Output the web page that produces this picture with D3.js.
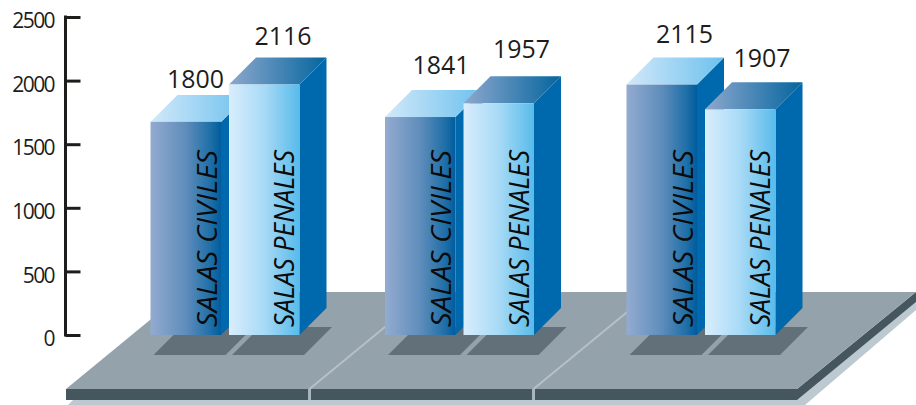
<!DOCTYPE html>
<html><head><meta charset="utf-8">
<style>html,body{margin:0;padding:0;background:#fff}svg{display:block}text{font-family:"Open Sans",sans-serif}</style>
<script src="https://cdn.jsdelivr.net/npm/d3@7"></script></head>
<body><svg id="c" width="916" height="405"></svg>
<script>
const groups = ["A", "B", "C"];
const seriesNames = ["SALAS CIVILES", "SALAS PENALES"];
const civiles = [1800, 1841, 2115];
const penales = [2116, 1957, 1907];
const tickValues = [0, 500, 1000, 1500, 2000, 2500];

const svg = d3.select("#c");
const W = 70.5, D = 27, BASE = 335;
const yAxisScale = d3.scaleLinear().domain([0, 2500]).range([BASE, 17]);
const yBar = d3.scaleLinear().domain([0, 2500]).range([BASE, 39]);
const xGroup = d3.scaleOrdinal().domain(groups).range([150.5, 385, 626.5]);
const xSeries = d3.scaleOrdinal().domain(seriesNames).range([0, 78.5]);
const labelNudge = {"SALAS CIVILES": [[45, 7], [56, 16], [58, 15]], "SALAS PENALES": [[54, 12], [58, 18], [57, 15]]};

const defs = svg.append("defs");
function grad(id, stops) {
  const g = defs.append("linearGradient").attr("id", id);
  stops.forEach(s => g.append("stop").attr("offset", s[0]).attr("stop-color", s[1]));
}
grad("darkFront", [[0, "#93ABD0"], [0.5, "#5F8DBB"], [0.85, "#1F6FA8"], [1, "#005C9C"]]);
grad("lightFront", [[0, "#D9EDFC"], [0.5, "#A8DAF6"], [1, "#58BBEA"]]);
grad("lightTop", [[0, "#D2E8F9"], [1, "#6CC1EE"]]);
grad("darkTop", [[0, "#8DA8CD"], [1, "#04659F"]]);

const poly = (pts, fill) => svg.append("polygon").attr("points", pts.map(p => p.join(",")).join(" ")).attr("fill", fill);

// platform
poly([[74, 399], [797, 399], [916, 302], [916, 310], [805, 405], [68, 405]], "#BCC9D0");
poly([[66, 389], [797, 389], [797, 400], [66, 400]], "#46565F");
poly([[797, 389], [916, 292], [916, 302], [797, 400]], "#46565F");
poly([[66, 389], [184, 292], [916, 292], [797, 389]], "#94A2AB");
[309.5, 533.5].forEach(x => {
  svg.append("rect").attr("x", x - 1.5).attr("y", 389).attr("width", 3).attr("height", 11).attr("fill", "#A9B5BC");
  svg.append("line").attr("x1", x).attr("y1", 389).attr("x2", x + 118).attr("y2", 292)
    .attr("stroke", "#B6C1C7").attr("stroke-width", 2);
});

// bars
const rows = [];
groups.forEach((g, i) => {
  rows.push({g, i, s: seriesNames[0], v: civiles[i], front: "url(#darkFront)", top: "url(#lightTop)"});
  rows.push({g, i, s: seriesNames[1], v: penales[i], front: "url(#lightFront)", top: "url(#darkTop)"});
});
const x0 = d => xGroup(d.g) + xSeries(d.s);

rows.forEach(d => {
  const x = x0(d);
  poly([[x + 3, 355], [x + 75, 355], [x + 103, 327], [x + 31, 327]], "#627079");
});
rows.forEach(d => {
  const x = x0(d), y = yBar(d.v);
  poly([[x + W, y], [x + W + D, y - D], [x + W + D, BASE - D], [x + W, BASE]], "#0068AD");
  poly([[x, y], [x + D, y - D], [x + W + D, y - D], [x + W, y]], d.top);
  svg.append("rect").attr("x", x).attr("y", y).attr("width", W).attr("height", BASE - y).attr("fill", d.front);
  const s = d.s === seriesNames[0] ? x + 66 : x + 65;
  svg.append("text").attr("transform", `translate(${s},327) rotate(-90)`)
    .attr("font-size", 28).attr("font-style", "italic").attr("fill", "#0b0b0b")
    .attr("textLength", 177).attr("lengthAdjust", "spacingAndGlyphs").text(d.s);
});
rows.forEach(d => {
  const n = labelNudge[d.s][d.i];
  svg.append("text").attr("x", x0(d) + n[0]).attr("y", yBar(d.v) - D - n[1])
    .attr("text-anchor", "middle").attr("font-size", 26).attr("fill", "#1d1d1b")
    .attr("textLength", 57).attr("lengthAdjust", "spacingAndGlyphs").text(d.v);
});

// axis
const ax = svg.append("g").attr("transform", "translate(65.5,0)")
  .call(d3.axisRight(yAxisScale).tickValues(tickValues).tickSize(15).tickSizeOuter(0).tickFormat(d3.format("d")));
ax.select(".domain").attr("stroke", "#1d1d1b").attr("stroke-width", 3).attr("d", `M0,${yAxisScale(2500)-1.5}V${yAxisScale(0)+1.5}`);
ax.selectAll(".tick line").attr("stroke", "#1d1d1b").attr("stroke-width", 3);
ax.selectAll(".tick text").attr("x", -11.5).attr("dy", "0.32em").attr("y", 4)
  .attr("text-anchor", "end").attr("font-size", 21).attr("fill", "#1d1d1b")
  .attr("font-family", '"Open Sans",sans-serif').style("letter-spacing", "-1.6px");
</script></body></html>
